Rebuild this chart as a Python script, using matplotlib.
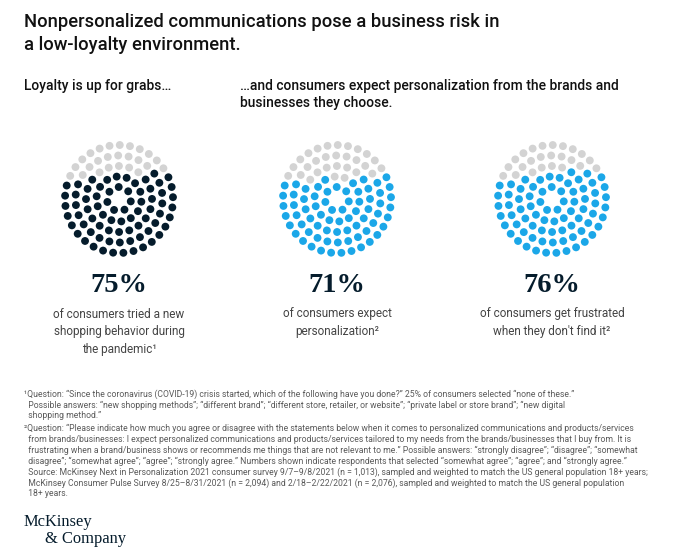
import numpy as np
import matplotlib
matplotlib.use("Agg")
import matplotlib.pyplot as plt

# ---------------- data ----------------
percents = [75, 71, 76]
pct_labels = ["75%", "71%", "76%"]
descriptions = [
    ["of consumers tried a new", "shopping behavior during", "the pandemic¹"],
    ["of consumers expect", "personalization²"],
    ["of consumers get frustrated", "when they don't find it²"],
]
fill_colors = ["#051C2C", "#1BA7E8", "#1BA7E8"]
empty_color = "#D3D3D3"

title_lines = ["Nonpersonalized communications pose a business risk in",
               "a low-loyalty environment."]
sub_left = "Loyalty is up for grabs…"
sub_right = ["…and consumers expect personalization from the brands and",
             "businesses they choose."]

footnotes = [
    "¹Question: “Since the coronavirus (COVID-19) crisis started, which of the following have you done?” 25% of consumers selected “none of these.”",
    "  Possible answers: “new shopping methods”; “different brand”; “different store, retailer, or website”; “private label or store brand”; “new digital",
    "  shopping method.”",
    "²Question: “Please indicate how much you agree or disagree with the statements below when it comes to personalized communications and products/services",
    "  from brands/businesses: I expect personalized communications and products/services tailored to my needs from the brands/businesses that I buy from. It is",
    "  frustrating when a brand/business shows or recommends me things that are not relevant to me.” Possible answers: “strongly disagree”; “disagree”; “somewhat",
    "  disagree”; “somewhat agree”; “agree”; “strongly agree.” Numbers shown indicate respondents that selected “somewhat agree”; “agree”; and “strongly agree.”",
    "  Source: McKinsey Next in Personalization 2021 consumer survey 9/7–9/8/2021 (n = 1,013), sampled and weighted to match the US general population 18+ years;",
    "  McKinsey Consumer Pulse Survey 8/25–8/31/2021 (n = 2,094) and 2/18–2/22/2021 (n = 2,076), sampled and weighted to match the US general population",
    "  18+ years.",
]
footnote_y = [394, 405, 416, 428, 439, 450, 461, 472, 483, 494]

# ---------------- layout ----------------
W, H = 680, 556
fig = plt.figure(figsize=(W / 100, H / 100), dpi=100)
ax = fig.add_axes([0, 0, 1, 1])
ax.set_xlim(0, W)
ax.set_ylim(H, 0)
ax.axis("off")

sans = ["Roboto", "DejaVu Sans"]
serif = ["Liberation Serif", "DejaVu Serif"]
navy = "#051C2C"

# Title
ax.text(24, 22, title_lines[0], fontsize=13.25, fontweight="medium", family=sans, color="#111111", va="center")
ax.text(24, 45, title_lines[1], fontsize=13.25, fontweight="medium", family=sans, color="#111111", va="center")

# Subtitles
ax.text(24, 86, sub_left, fontsize=10.0, fontweight="medium", family=sans, color="#111111", va="center")
ax.text(240, 86, sub_right[0], fontsize=10.0, fontweight="medium", family=sans, color="#111111", va="center")
ax.text(240, 103, sub_right[1], fontsize=10.0, fontweight="medium", family=sans, color="#111111", va="center")

# Dot circles
centers_x = [119, 337, 552]
center_y = 199
ring_r = [12, 22.5, 33, 43.5, 54]
ring_n = [7, 14, 20, 26, 33]
xs, ys = [], []
for i, (r, n) in enumerate(zip(ring_r, ring_n)):
    off = 0.37 * i + 0.2
    a = off + np.arange(n) * 2 * np.pi / n
    xs.extend(r * np.cos(a))
    ys.extend(r * np.sin(a))
xs = np.array(xs)
ys = np.array(ys)
order = np.argsort(ys + 0.08 * xs)  # top first (y axis inverted)

for cx, p, col, lab, desc in zip(centers_x, percents, fill_colors, pct_labels, descriptions):
    n_tot = len(xs)
    n_empty = int(round(n_tot * (100 - p) / 100))
    cols = np.array([col] * n_tot, dtype=object)
    cols[order[:n_empty]] = empty_color
    ax.scatter(cx + xs, center_y + ys, s=32, c=list(cols), linewidths=0)
    ax.text(cx, 285, lab, fontsize=20.5, family=serif, fontweight="bold", color=navy, ha="center", va="center")
    for j, line in enumerate(desc):
        ax.text(cx, 314 + 17.5 * j, line, fontsize=8.5, family=sans, color="#444444",
                ha="center", va="center")

# Footnotes
for y, line in zip(footnote_y, footnotes):
    ax.text(24, y, line, fontsize=6.25, family=sans, color="#5a5a5a", va="center")

# Logo
ax.text(24, 522, "McKinsey", fontsize=11.9, family=serif, color=navy, va="center")
ax.text(45, 539, "& Company", fontsize=11.9, family=serif, color=navy, va="center")

fig.savefig("out.png", dpi=100, facecolor="white")
